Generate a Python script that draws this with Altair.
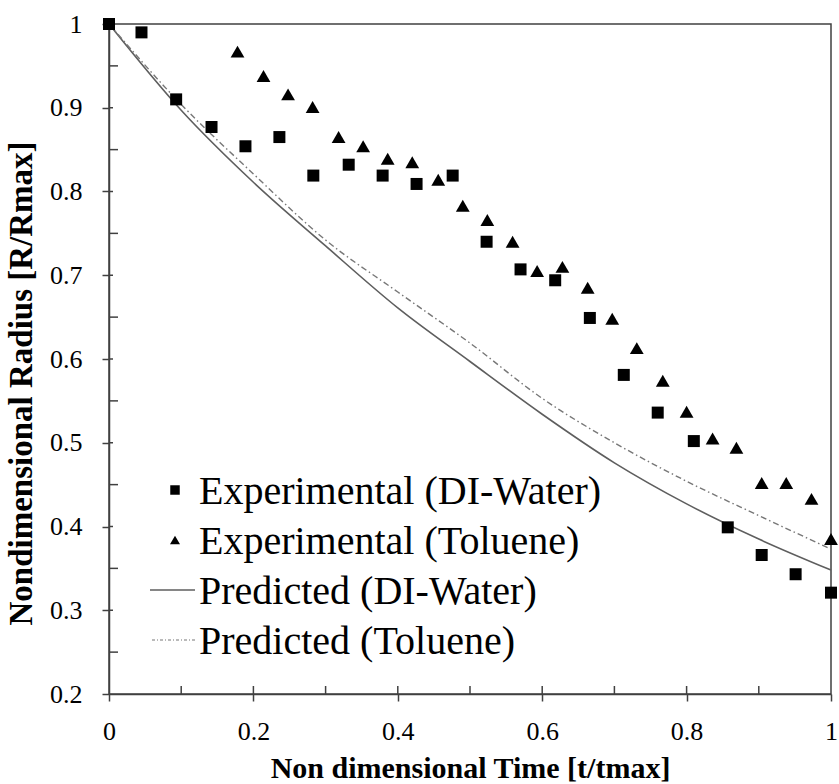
import altair as alt
import pandas as pd

# Experimental droplet radius, DI-Water
water_t = [0.0, 0.045, 0.093, 0.142, 0.189, 0.236, 0.283, 0.332, 0.379, 0.426, 0.476,
           0.523, 0.570, 0.618, 0.666, 0.713, 0.760, 0.810, 0.857, 0.904, 0.951, 1.0]
water_r = [1.0, 0.990, 0.910, 0.877, 0.854, 0.865, 0.819, 0.832, 0.819, 0.809, 0.819,
           0.740, 0.707, 0.694, 0.649, 0.581, 0.536, 0.502, 0.399, 0.366, 0.343, 0.321]

# Experimental droplet radius, Toluene
tol_t = [0.178, 0.214, 0.248, 0.282, 0.318, 0.352, 0.386, 0.420, 0.456, 0.490, 0.524,
         0.559, 0.593, 0.628, 0.663, 0.697, 0.731, 0.767, 0.800, 0.836, 0.869, 0.904,
         0.938, 0.973, 1.0]
tol_r = [0.967, 0.938, 0.916, 0.901, 0.865, 0.854, 0.839, 0.835, 0.814, 0.783, 0.766,
         0.740, 0.705, 0.710, 0.685, 0.648, 0.613, 0.574, 0.537, 0.505, 0.494, 0.452,
         0.452, 0.433, 0.385]

# Model predictions
pred_t = [0.0, 0.1, 0.2, 0.3, 0.4, 0.5, 0.6, 0.7, 0.8, 0.9, 1.0]
pred_water = [1.0, 0.897, 0.811, 0.735, 0.661, 0.597, 0.534, 0.476, 0.427, 0.385, 0.348]
pred_tol = [1.0, 0.904, 0.821, 0.742, 0.680, 0.619, 0.553, 0.500, 0.454, 0.413, 0.373]

legend_labels = ["Experimental (DI-Water)", "Experimental (Toluene)",
                 "Predicted (DI-Water)", "Predicted (Toluene)"]

x_major = [0.0, 0.2, 0.4, 0.6, 0.8, 1.0]
x_minor = [0.1, 0.3, 0.5, 0.7, 0.9]
y_major = [0.2, 0.3, 0.4, 0.5, 0.6, 0.7, 0.8, 0.9, 1.0]
y_minor = [0.25, 0.35, 0.45, 0.55, 0.65, 0.75, 0.85, 0.95]

W, H = 722, 670
FONT = "Liberation Serif, Times New Roman, Times, serif"
AXIS_GRAY = "#404040"

water_df = pd.DataFrame({"t": water_t, "r": water_r})
tol_df = pd.DataFrame({"t": tol_t, "r": tol_r})
pw_df = pd.DataFrame({"t": pred_t, "r": pred_water})
pt_df = pd.DataFrame({"t": pred_t, "r": pred_tol})

xscale = alt.Scale(domain=[0, 1], nice=False, zero=False)
yscale = alt.Scale(domain=[0.2, 1], nice=False, zero=False)
xaxis = alt.Axis(values=x_major, format="~g", title="Non dimensional Time [t/tmax]",
                 labelPadding=17, labelFlush=False,
                 titleFontSize=30, titleBaseline="alphabetic", titleX=W / 2, titleY=83)
yaxis = alt.Axis(values=y_major, format="~g", title="Nondimensional Radius [R/Rmax]",
                 labelPadding=20, labelFlush=False,
                 titleFontSize=33, titleAngle=270, titleBaseline="alphabetic",
                 titleX=-78, titleY=359)


def enc(chart):
    return chart.encode(
        x=alt.X("t:Q", scale=xscale, axis=xaxis),
        y=alt.Y("r:Q", scale=yscale, axis=yaxis),
    )


line_water = enc(alt.Chart(pw_df).mark_line(
    color="#5e5e5e", strokeWidth=1.6, interpolate="monotone"))
line_tol = enc(alt.Chart(pt_df).mark_line(
    color="#777777", strokeWidth=1.4, strokeDash=[6, 3, 1.5, 3], interpolate="monotone"))
pts_water = enc(alt.Chart(water_df).mark_point(
    shape="square", filled=True, size=144, color="black", opacity=1))
pts_tol = enc(alt.Chart(tol_df).mark_point(
    shape="triangle-up", filled=True, size=190, color="black", opacity=1))

# inward tick marks along the bottom and left axes
xt_major = alt.Chart(pd.DataFrame({"t": x_major[1:-1]})).mark_rule(
    color=AXIS_GRAY, strokeWidth=1.5).encode(
    x=alt.X("t:Q", scale=xscale), y=alt.value(H), y2=alt.value(H - 8))
xt_minor = alt.Chart(pd.DataFrame({"t": x_minor})).mark_rule(
    color=AXIS_GRAY, strokeWidth=1.5).encode(
    x=alt.X("t:Q", scale=xscale), y=alt.value(H), y2=alt.value(H - 8))
yt_major = alt.Chart(pd.DataFrame({"r": y_major[1:-1]})).mark_rule(
    color=AXIS_GRAY, strokeWidth=1.5).encode(
    y=alt.Y("r:Q", scale=yscale), x=alt.value(0), x2=alt.value(4))
yt_minor = alt.Chart(pd.DataFrame({"r": y_minor})).mark_rule(
    color=AXIS_GRAY, strokeWidth=1.5).encode(
    y=alt.Y("r:Q", scale=yscale), x=alt.value(0), x2=alt.value(9))

# legend drawn inside the plot area
leg_x_sym, leg_x_text, leg_y0, leg_dy = 66, 90, 466, 50
legend_layers = []
for i, label in enumerate(legend_labels):
    yy = leg_y0 + i * leg_dy
    legend_layers.append(
        alt.Chart(pd.DataFrame({"label": [label]})).mark_text(
            font=FONT, fontSize=40, align="left", baseline="middle", color="black").encode(
            x=alt.value(leg_x_text), y=alt.value(yy + 2), text="label:N"))
legend_layers.append(
    alt.Chart(pd.DataFrame({"k": [0]})).mark_point(
        shape="square", filled=True, size=90, color="black", opacity=1).encode(
        x=alt.value(leg_x_sym), y=alt.value(leg_y0)))
legend_layers.append(
    alt.Chart(pd.DataFrame({"k": [0]})).mark_point(
        shape="triangle-up", filled=True, size=100, color="black", opacity=1).encode(
        x=alt.value(leg_x_sym), y=alt.value(leg_y0 + leg_dy)))
legend_layers.append(
    alt.Chart(pd.DataFrame({"k": [0]})).mark_rule(color="#5e5e5e", strokeWidth=1.4).encode(
        x=alt.value(41), x2=alt.value(86), y=alt.value(leg_y0 + 2 * leg_dy)))
legend_layers.append(
    alt.Chart(pd.DataFrame({"k": [0]})).mark_rule(
        color="#777777", strokeWidth=1.1, strokeDash=[3, 2, 1, 2]).encode(
        x=alt.value(43), x2=alt.value(88), y=alt.value(leg_y0 + 3 * leg_dy)))

chart = alt.layer(
    line_water, line_tol, xt_major, xt_minor, yt_major, yt_minor,
    pts_water, pts_tol, *legend_layers
).properties(
    width=W, height=H,
    autosize=alt.AutoSizeParams(type="none"),
    padding={"left": 109, "top": 24, "right": 8, "bottom": 90},
    background="white",
).configure_view(
    stroke=AXIS_GRAY, strokeWidth=1.5
).configure_axis(
    grid=False,
    domainColor=AXIS_GRAY, domainWidth=1.5,
    tickColor=AXIS_GRAY, tickWidth=1.5, tickSize=7,
    labelFont=FONT, labelFontSize=26, labelColor="black",
    titleFont=FONT, titleFontWeight="bold", titleColor="black",
)

chart.save("out.html", embed_options={"renderer": "svg", "actions": False})
